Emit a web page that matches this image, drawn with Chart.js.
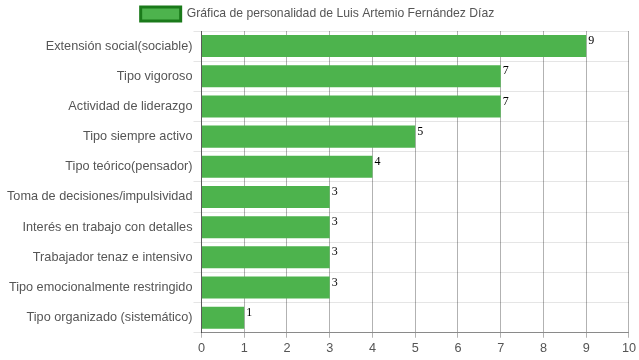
<!DOCTYPE html>
<html>
<head>
<meta charset="utf-8">
<script src="https://cdn.jsdelivr.net/npm/chart.js@4/dist/chart.umd.min.js"></script>
<style>
html,body{margin:0;padding:0;background:#fff;}
#wrap{width:639px;height:360px;position:relative;}
</style>
</head>
<body>
<div id="wrap"><canvas id="c" width="639" height="360"></canvas></div>
<script>
const categories = [
  "Extensión social(sociable)",
  "Tipo vigoroso",
  "Actividad de liderazgo",
  "Tipo siempre activo",
  "Tipo teórico(pensador)",
  "Toma de decisiones/impulsividad",
  "Interés en trabajo con detalles",
  "Trabajador tenaz e intensivo",
  "Tipo emocionalmente restringido",
  "Tipo organizado (sistemático)"
];
const values = [9, 7, 7, 5, 4, 3, 3, 3, 3, 1];
const seriesLabel = "Gráfica de personalidad de Luis Artemio Fernández Díaz";
const xTicks = [0,1,2,3,4,5,6,7,8,9,10];

const valueLabels = {
  id: 'valueLabels',
  afterDatasetsDraw(chart) {
    const ctx = chart.ctx;
    const meta = chart.getDatasetMeta(0);
    ctx.save();
    ctx.font = '12px "Liberation Serif", "Times New Roman", serif';
    ctx.fillStyle = '#000';
    ctx.textAlign = 'left';
    ctx.textBaseline = 'top';
    meta.data.forEach((bar, i) => {
      const top = bar.y - bar.height / 2;
      ctx.fillText(String(values[i]), bar.x + 2, top);
    });
    ctx.restore();
  }
};

const tickFont = { family: 'Arial, "Liberation Sans", sans-serif', size: 12.7 };

new Chart(document.getElementById('c'), {
  type: 'bar',
  data: {
    labels: categories,
    datasets: [{
      label: seriesLabel,
      data: values,
      backgroundColor: '#4db34d',
      borderColor: '#1f8a1f',
      borderWidth: 0,
      categoryPercentage: 1.0,
      barPercentage: 0.73
    }]
  },
  options: {
    indexAxis: 'y',
    responsive: false,
    animation: false,
    layout: { padding: { left: 6, right: 10, top: 0, bottom: 1 } },
    plugins: {
      legend: {
        display: true,
        position: 'top',
        labels: {
          color: '#555',
          font: { family: 'Arial, "Liberation Sans", sans-serif', size: 12.2 },
          boxWidth: 40,
          boxHeight: 14,
          padding: 7,
          generateLabels(chart) {
            return [{
              text: seriesLabel,
              fillStyle: '#4db34d',
              strokeStyle: '#1a7a1a',
              lineWidth: 3,
              fontColor: '#555',
              datasetIndex: 0
            }];
          }
        }
      },
      tooltip: { enabled: false }
    },
    scales: {
      x: {
        min: 0, max: 10,
        ticks: {
          stepSize: 1,
          color: '#555',
          font: tickFont,
          padding: 3
        },
        grid: {
          color: 'rgba(0,0,0,0.3)',
          lineWidth: 1,
          tickLength: 5,
          drawTicks: true
        },
        border: { color: 'rgba(0,0,0,0.4)' }
      },
      y: {
        ticks: {
          color: '#555',
          font: tickFont,
          padding: 1
        },
        grid: {
          color: 'rgba(0,0,0,0.1)',
          offset: true,
          tickLength: 8
        },
        border: { color: 'rgba(0,0,0,0.5)' }
      }
    }
  },
  plugins: [valueLabels]
});
</script>
</body>
</html>
